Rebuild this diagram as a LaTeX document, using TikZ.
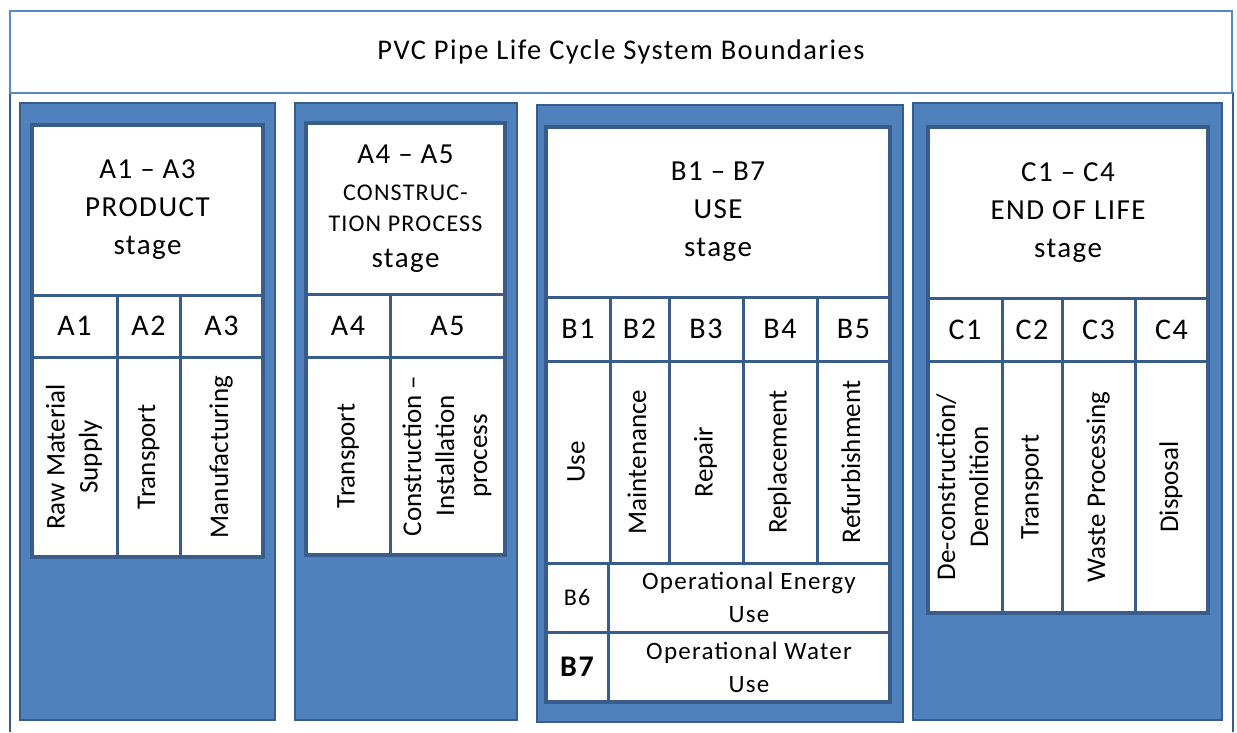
\documentclass[tikz,border=0pt]{standalone}
\usepackage{fontspec}
\setmainfont{Carlito}[LetterSpace=5]
\newfontfamily\vfont{Carlito}
\definecolor{pfill}{HTML}{4F81BD}
\definecolor{pline}{HTML}{385D8A}
\definecolor{tline}{HTML}{5A88C6}
\newcommand\cellbox[7]{%
  \node[cellst,#6,minimum width={#4-#2},minimum height={#5-#3}] (#1) at ({(#2+#4)/2},{(#3+#5)/2}) {#7};}
\newcommand\vt[1]{\rotatebox{90}{\vfont\fontsize{27}{33}\selectfont\begin{tabular}{@{}c@{}}#1\end{tabular}}}
\begin{document}
\begin{tikzpicture}[x=1pt,y=-1pt,
  cellst/.style={draw=pline,line width=3pt,fill=white,inner sep=0pt,align=center},
  panelst/.style={draw=pline,line width=2.5pt,fill=pfill},
  hdr/.style={font=\fontsize{29}{38}\selectfont},
  lab/.style={font=\fontsize{30}{32}\selectfont},
  frame/.style={draw=pline,line width=4pt}]
\useasboundingbox (0,0) rectangle (1237,732);
% outer boundary
\draw[pline,line width=2.5pt] (10,92) -- (10,732) (1233,92) -- (1233,732);
\node[draw=tline,line width=2pt,fill=white,minimum width=1222,minimum height=82,inner sep=0pt,font=\fontsize{28.5}{32}\selectfont] (title) at (621,52) {PVC Pipe Life Cycle System Boundaries};
% panels
\draw[panelst] (20,103) rectangle (275,720);
\draw[panelst] (295,103) rectangle (517,720);
\draw[panelst] (537,105) rectangle (903,722);
\draw[panelst] (913,103) rectangle (1222,720);
% panel A1-A3
\cellbox{h1}{32}{125}{263}{295}{hdr}{A1 – A3\\PRODUCT\\stage}
\cellbox{a1}{32}{295}{117}{357}{lab}{A1}
\cellbox{a2}{117}{295}{180}{357}{lab}{A2}
\cellbox{a3}{180}{295}{263}{357}{lab}{A3}
\cellbox{a1t}{32}{357}{117}{557}{}{\vt{Raw Material\\Supply}}
\cellbox{a2t}{117}{357}{180}{557}{}{\vt{Transport}}
\cellbox{a3t}{180}{357}{263}{557}{}{\vt{Manufacturing}}
\draw[frame] (32,125) rectangle (263,557);
% panel A4-A5
\cellbox{h2}{306}{123}{505}{294}{}{\fontsize{29}{36}\selectfont\begin{tabular}{@{}c@{}}A4 – A5\\[1pt]{\fontsize{24}{31}\selectfont CONSTRUC-}\\[-5pt]{\fontsize{24}{31}\selectfont TION PROCESS}\\[0pt]stage\end{tabular}}
\cellbox{a4}{306}{294}{390}{357}{lab}{A4}
\cellbox{a5}{390}{294}{505}{357}{lab}{A5}
\cellbox{a4t}{306}{357}{390}{555}{}{\vt{Transport}}
\cellbox{a5t}{390}{357}{505}{555}{}{\vt{Construction –\\Installation\\process}}
\draw[frame] (306,123) rectangle (505,555);
% panel B1-B7
\cellbox{h3}{546}{127}{890}{297}{hdr}{B1 – B7\\USE\\stage}
\cellbox{b1}{546}{297}{610}{361}{lab}{B1}
\cellbox{b2}{610}{297}{669}{361}{lab}{B2}
\cellbox{b3}{669}{297}{743}{361}{lab}{B3}
\cellbox{b4}{743}{297}{817}{361}{lab}{B4}
\cellbox{b5}{817}{297}{890}{361}{lab}{B5}
\cellbox{b1t}{546}{361}{610}{563}{}{\vt{Use}}
\cellbox{b2t}{610}{361}{669}{563}{}{\vt{Maintenance}}
\cellbox{b3t}{669}{361}{743}{563}{}{\vt{Repair}}
\cellbox{b4t}{743}{361}{817}{563}{}{\vt{Replacement}}
\cellbox{b5t}{817}{361}{890}{563}{}{\vt{Refurbishment}}
\cellbox{b6}{546}{563}{608}{632}{font=\fontsize{24}{26}\selectfont}{B6}
\cellbox{b6t}{608}{563}{890}{632}{font=\fontsize{25}{33}\selectfont}{Operational Energy\\Use}
\cellbox{b7}{546}{632}{608}{702}{font=\fontsize{30}{30}\selectfont\bfseries}{B7}
\cellbox{b7t}{608}{632}{890}{702}{font=\fontsize{25}{33}\selectfont}{Operational Water\\Use}
\draw[frame] (546,127) rectangle (890,702);
% panel C1-C4
\cellbox{h4}{928}{127}{1208}{298}{hdr}{C1 – C4\\END OF LIFE\\stage}
\cellbox{c1}{928}{298}{1002}{361}{lab}{C1}
\cellbox{c2}{1002}{298}{1062}{361}{lab}{C2}
\cellbox{c3}{1062}{298}{1135}{361}{lab}{C3}
\cellbox{c4}{1135}{298}{1208}{361}{lab}{C4}
\cellbox{c1t}{928}{361}{1002}{613}{}{\vt{De-construction/\\Demolition}}
\cellbox{c2t}{1002}{361}{1062}{613}{}{\vt{Transport}}
\cellbox{c3t}{1062}{361}{1135}{613}{}{\vt{Waste Processing}}
\cellbox{c4t}{1135}{361}{1208}{613}{}{\vt{Disposal}}
\draw[frame] (928,127) rectangle (1208,613);
\end{tikzpicture}
\end{document}
